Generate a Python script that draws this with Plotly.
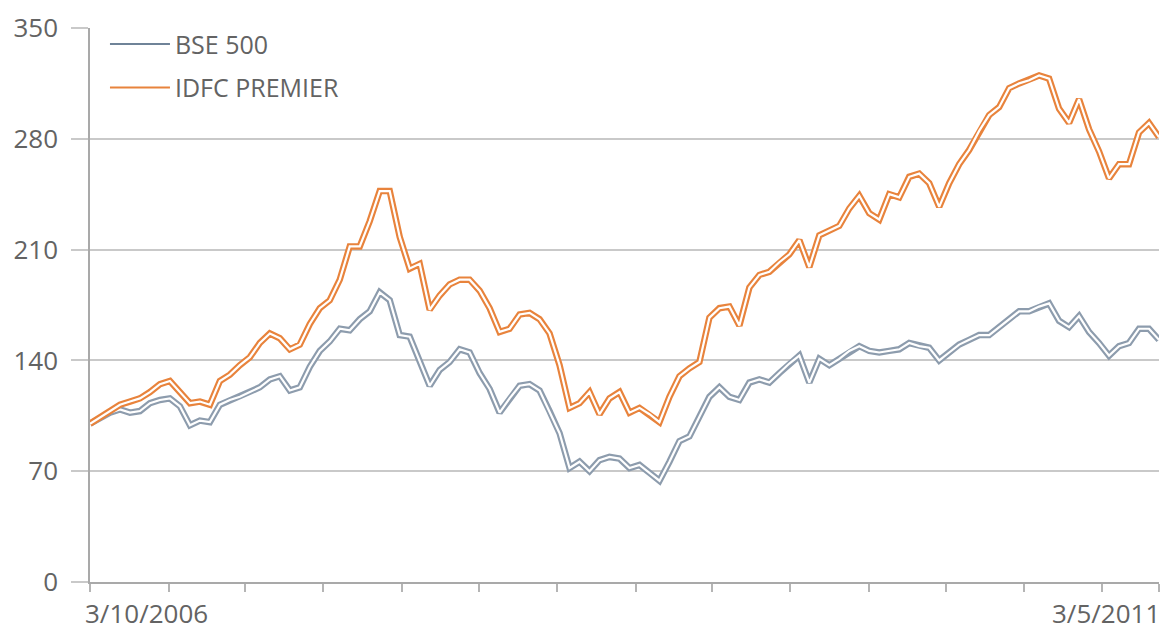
import pandas as pd
import plotly.graph_objects as go

start_date = "2006-10-03"
end_date = "2011-05-03"

idfc_premier = [100, 104, 108, 112, 114, 116, 120, 125, 127, 120, 113, 114, 112, 127, 131, 137,
                142, 151, 157, 154, 147, 150, 163, 173, 178, 191, 212, 212, 228, 247, 247, 218,
                198, 201, 172, 181, 188, 191, 191, 184, 173, 158, 160, 169, 170, 166, 157, 137,
                110, 113, 120, 106, 116, 120, 107, 110, 106, 101, 117, 130, 135, 139, 167, 173,
                174, 162, 186, 194, 196, 202, 207, 216, 199, 219, 222, 225, 236, 244, 233, 229,
                245, 243, 256, 258, 252, 237, 252, 264, 273, 285, 295, 300, 312, 315, 317, 320,
                318, 299, 290, 305, 286, 272, 255, 264, 264, 284, 290, 281]

bse_500 = [100, 104, 107, 109, 107, 108, 113, 115, 116, 111, 99, 102, 101, 112, 115, 117,
           120, 123, 128, 130, 121, 123, 136, 146, 152, 160, 159, 166, 171, 183, 178, 156,
           155, 139, 124, 134, 139, 147, 145, 132, 122, 107, 116, 124, 125, 121, 108, 94,
           72, 76, 70, 77, 79, 78, 72, 74, 69, 64, 76, 89, 92, 104, 117, 123,
           117, 115, 126, 128, 126, 132, 138, 143, 126, 141, 137, 141, 146, 149, 146, 145,
           146, 147, 151, 149, 148, 140, 145, 150, 153, 156, 156, 161, 166, 171, 171, 174,
           176, 165, 161, 168, 158, 151, 143, 149, 151, 160, 160, 153]

tick_dates = ["2006-10-03", "2007-02-03", "2007-06-03", "2007-10-03", "2008-02-03",
              "2008-06-03", "2008-10-03", "2009-02-03", "2009-06-03", "2009-10-03",
              "2010-02-03", "2010-06-03", "2010-10-03", "2011-02-03", "2011-05-03"]
first_label = "3/10/2006"
last_label = "3/5/2011"
y_ticks = [0, 70, 140, 210, 280, 350]

dates = pd.date_range(start_date, end_date, periods=len(idfc_premier))

BLUE = "#8d9cad"
BLUE_LEG = "#6f8398"
ORANGE = "#e8833c"
FONT = "Open Sans"
TXT = "#636363"

fig = go.Figure()
for vals, col in [(bse_500, BLUE), (idfc_premier, ORANGE)]:
    fig.add_trace(go.Scatter(x=dates, y=vals, mode="lines", showlegend=False,
                             line=dict(color=col, width=6.5), hoverinfo="skip"))
    fig.add_trace(go.Scatter(x=dates, y=vals, mode="lines", showlegend=False,
                             line=dict(color="white", width=2.2), hoverinfo="skip"))

fig.add_trace(go.Scatter(x=[None], y=[None], mode="lines", name="BSE 500",
                         legendgroup="a", line=dict(color=BLUE_LEG, width=2)))
fig.add_trace(go.Scatter(x=[None], y=[None], mode="lines", name="IDFC PREMIER",
                         legendgroup="b", line=dict(color=ORANGE, width=2)))

fig.update_layout(
    width=1168, height=634,
    margin=dict(l=90, r=9, t=22, b=52),
    plot_bgcolor="white", paper_bgcolor="white",
    font=dict(family=FONT, size=25, color=TXT),
    showlegend=True,
    legend=dict(x=0.014, y=1.012, xanchor="left", yanchor="top",
                bgcolor="rgba(0,0,0,0)", font=dict(family=FONT, size=25, color=TXT),
                traceorder="grouped", tracegroupgap=8, itemwidth=60),
    xaxis=dict(range=[start_date, end_date], showgrid=False, zeroline=False,
               showline=True, linecolor="#a9a9a9", linewidth=1.5,
               tickmode="array", tickvals=tick_dates, ticks="outside", ticklen=8,
               tickcolor="#b5b5b5", tickwidth=1.5, showticklabels=False),
    yaxis=dict(range=[0, 350], tickvals=y_ticks, showgrid=True, gridcolor="#c9c9c9",
               gridwidth=1.5, zeroline=False, showline=True, linecolor="#a9a9a9",
               linewidth=1.5, ticks="outside", ticklen=17, tickcolor="#c9c9c9",
               tickwidth=1.5, ticklabelstandoff=8,
               tickfont=dict(family=FONT, size=26, color=TXT)),
    annotations=[
        dict(x=0, y=0, xref="paper", yref="paper", text=first_label, showarrow=False,
             xanchor="left", yanchor="top", xshift=-7, yshift=-11,
             font=dict(family=FONT, size=26, color=TXT)),
        dict(x=1, y=0, xref="paper", yref="paper", text=last_label, showarrow=False,
             xanchor="right", yanchor="top", xshift=3, yshift=-11,
             font=dict(family=FONT, size=26, color=TXT)),
    ],
)

fig.write_html("out.html")
